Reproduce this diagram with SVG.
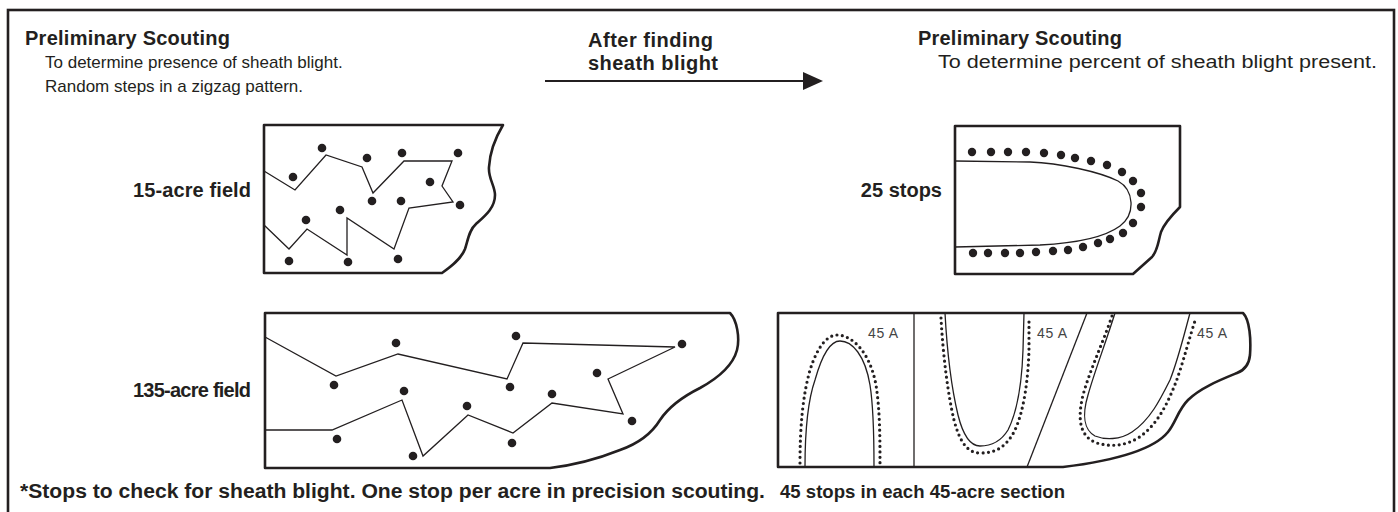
<svg xmlns="http://www.w3.org/2000/svg" width="1398" height="512" viewBox="0 0 1398 512">
<style>
.h{font-family:"Liberation Sans",Arial,sans-serif;font-weight:bold;font-size:20px;fill:#231f20}
.b{font-family:"Liberation Sans",Arial,sans-serif;font-size:17px;fill:#231f20}
.s{font-family:"Liberation Sans",Arial,sans-serif;font-size:14px;fill:#444}
.field{fill:#fff;stroke:#231f20;stroke-width:2.6;stroke-linejoin:round}
.zig{fill:none;stroke:#231f20;stroke-width:1.3;stroke-linejoin:miter}
.curve{fill:none;stroke:#231f20;stroke-width:1.3}
.dots{fill:none;stroke:#231f20;stroke-width:3.2;stroke-linecap:round;stroke-dasharray:0 5.4}
.stop{fill:#231f20}
</style>
<defs>
<marker id="ah" markerWidth="20" markerHeight="18" refX="0" refY="9" orient="auto" markerUnits="userSpaceOnUse">
<polygon points="0,0 20,9 0,18" fill="#231f20"/>
</marker>
</defs>
<rect x="8" y="10" width="1386" height="510" fill="#fff" stroke="#231f20" stroke-width="2.6"/>

<g id="header-left">
<text class="h" x="25" y="45" textLength="205">Preliminary Scouting</text>
<text class="b" x="45" y="68">To determine presence of sheath blight.</text>
<text class="b" x="45" y="92">Random steps in a zigzag pattern.</text>
</g>
<g id="header-right">
<text class="h" x="918" y="45" textLength="204">Preliminary Scouting</text>
<text class="b" x="938" y="68" style="font-size:17.5px" textLength="439" lengthAdjust="spacingAndGlyphs">To determine percent of sheath blight present.</text>
</g>

<g id="connectors">
<line x1="545" y1="81" x2="803" y2="81" stroke="#231f20" stroke-width="2.2" marker-end="url(#ah)"/>
<text class="h" x="588" y="47" textLength="125">After finding</text>
<text class="h" x="588" y="70" textLength="130">sheath blight</text>
</g>

<g id="field-15">
<path class="field" d="M264,125 H503 C497,135 490,150 489,167 C488,178 495,186 495,195 C495,208 485,216 476,224 C469,230 468,240 465,249 C461,259 452,266 442,273 H264 Z"/>
<polyline class="zig" points="264,171 295,190 326,155 362,167 373,193 404,161 452,161 442,186 453,202 409,208 394,249 347,218 347,255 307,229 289,249 264,225"/>
<g class="stop">
<circle cx="322" cy="148" r="4.3"/><circle cx="293" cy="177" r="4.3"/><circle cx="367" cy="158" r="4.3"/><circle cx="402" cy="153" r="4.3"/><circle cx="458" cy="153" r="4.3"/><circle cx="430" cy="182" r="4.3"/><circle cx="372" cy="201" r="4.3"/><circle cx="401" cy="201" r="4.3"/><circle cx="460" cy="205" r="4.3"/><circle cx="340" cy="210" r="4.3"/><circle cx="306" cy="220" r="4.3"/><circle cx="289" cy="261" r="4.3"/><circle cx="348" cy="262" r="4.3"/><circle cx="398" cy="259" r="4.3"/>
</g>
<text class="h" x="133" y="197" textLength="118">15-acre field</text>
</g>

<g id="field-135">
<path class="field" d="M265,313 H730 C737,320 740,338 737,350 C733,365 720,377 700,388 C680,398 668,408 660,420 C652,433 640,443 620,450 C600,458 575,465 550,468 H265 Z"/>
<polyline class="zig" points="265,337 336,376 398,354 507,379 523,343 675,347 608,379 623,414 552,403 513,433 468,415 423,456 402,400 332,430 265,430"/>
<g class="stop">
<circle cx="396" cy="343" r="4.3"/><circle cx="516" cy="336" r="4.3"/><circle cx="682" cy="344" r="4.3"/><circle cx="334" cy="385" r="4.3"/><circle cx="404" cy="391" r="4.3"/><circle cx="510" cy="387" r="4.3"/><circle cx="597" cy="373" r="4.3"/><circle cx="552" cy="394" r="4.3"/><circle cx="467" cy="406" r="4.3"/><circle cx="632" cy="421" r="4.3"/><circle cx="337" cy="439" r="4.3"/><circle cx="512" cy="443" r="4.3"/><circle cx="413" cy="456" r="4.3"/>
</g>
<text class="h" x="133" y="397" textLength="118">135-acre field</text>
</g>

<g id="field-25-stops">
<path class="field" d="M955,126 H1180 V207 C1172,215 1164,224 1161,232 C1158,242 1158,250 1152,257 L1133,274 H955 Z"/>
<path class="curve" d="M955,161 L1030,162 C1060,163 1100,172 1118,181 C1134,190 1136,214 1120,226 C1105,237 1080,243 1040,245 L955,247"/>
<g class="stop">
<circle cx="972" cy="152" r="4.2"/><circle cx="991" cy="152" r="4.2"/><circle cx="1008" cy="152" r="4.2"/><circle cx="1026" cy="152" r="4.2"/><circle cx="1044" cy="153" r="4.2"/><circle cx="1061" cy="155" r="4.2"/><circle cx="1075" cy="158" r="4.2"/><circle cx="1091" cy="161" r="4.2"/><circle cx="1107" cy="165" r="4.2"/><circle cx="1122" cy="172" r="4.2"/>
<circle cx="1133" cy="181" r="4.2"/><circle cx="1141" cy="193" r="4.2"/><circle cx="1141" cy="207" r="4.2"/><circle cx="1133" cy="223" r="4.2"/>
<circle cx="1123" cy="233" r="4.2"/><circle cx="1110" cy="239" r="4.2"/><circle cx="1098" cy="243" r="4.2"/><circle cx="1083" cy="247" r="4.2"/><circle cx="1068" cy="250" r="4.2"/><circle cx="1053" cy="251" r="4.2"/><circle cx="1036" cy="252" r="4.2"/><circle cx="1020" cy="253" r="4.2"/><circle cx="1005" cy="253" r="4.2"/><circle cx="988" cy="253" r="4.2"/><circle cx="973" cy="253" r="4.2"/>
</g>
<text class="h" x="942" y="197" text-anchor="end">25 stops</text>
</g>

<g id="field-45-acre-sections">
<path class="field" d="M778,313 H1243 C1250,320 1251,340 1250,355 C1249,365 1245,370 1237,373 C1220,380 1200,388 1188,400 C1178,410 1176,422 1168,432 C1155,448 1120,460 1063,467 H778 Z"/>
<line x1="914" y1="313" x2="914" y2="467" stroke="#231f20" stroke-width="1.3"/>
<line x1="1087" y1="313" x2="1027" y2="467" stroke="#231f20" stroke-width="1.3"/>
<path class="curve" d="M805,467 C805,430 808,400 815,380 C822,355 830,341 840,341 C852,341 865,355 870,385 C874,410 874,440 874,467"/>
<path class="dots" d="M800,463 C800,425 803,395 810,370 C818,345 828,335 837,335 C852,335 870,352 876,385 C880,410 880,440 880,465"/>
<path class="curve" d="M945,313 C947,350 952,390 958,415 C963,435 970,446 980,446 C990,446 1000,443 1008,430 C1018,410 1022,380 1023,350 L1024,313"/>
<path class="dots" d="M941,318 C943,355 948,395 954,420 C960,443 968,453 980,453 C995,453 1005,448 1014,432 C1024,412 1028,380 1029,350 L1029,318"/>
<path class="curve" d="M1115,313 C1105,345 1095,370 1088,395 C1082,415 1084,430 1095,436 C1105,440 1120,440 1132,432 C1150,420 1160,400 1170,380 C1178,360 1184,335 1190,313"/>
<path class="dots" d="M1112,316 C1102,345 1090,370 1083,395 C1077,420 1080,437 1097,443 C1110,447 1125,446 1138,438 C1158,425 1168,402 1176,382 C1184,360 1190,335 1196,318"/>
<text class="s" x="868" y="338" textLength="30">45 A</text>
<text class="s" x="1037" y="338" textLength="30">45 A</text>
<text class="s" x="1197" y="338" textLength="30">45 A</text>
</g>

<g id="footnotes">
<text class="h" x="20" y="498" style="font-size:20px" textLength="745" lengthAdjust="spacingAndGlyphs">*Stops to check for sheath blight. One stop per acre in precision scouting.</text>
<text class="h" x="780" y="498" style="font-size:19px" textLength="285" lengthAdjust="spacingAndGlyphs">45 stops in each 45-acre section</text>
</g>
</svg>
